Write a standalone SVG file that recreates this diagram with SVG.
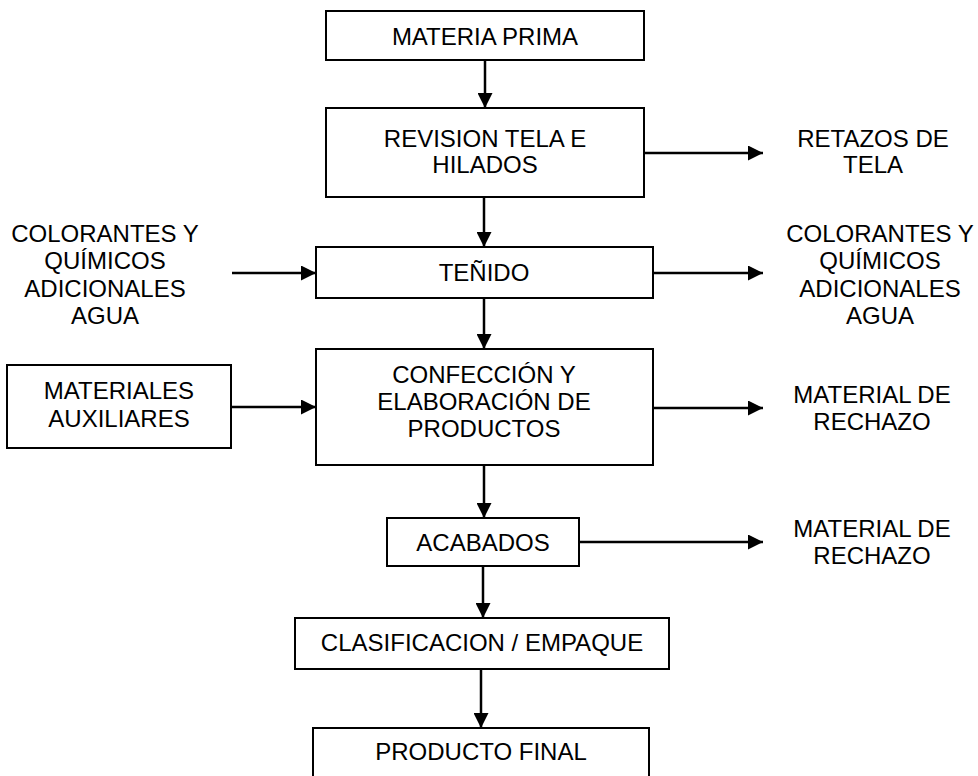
<svg xmlns="http://www.w3.org/2000/svg" width="978" height="776" viewBox="0 0 978 776">
<style>
  .box { fill: #ffffff; stroke: #000000; stroke-width: 2; }
  .t { font-family: "Liberation Sans", Arial, sans-serif; font-size: 24px; fill: #000000; text-anchor: middle; }
  .c { stroke: #000000; stroke-width: 2.5; fill: none; marker-end: url(#ah); }
</style>
<defs>
  <marker id="ah" viewBox="0 0 10 10" refX="10" refY="5" markerWidth="6" markerHeight="6" orient="auto" markerUnits="strokeWidth">
    <path d="M0,0 L10,5 L0,10 Z" fill="#000000"/>
  </marker>
</defs>
<rect width="978" height="776" fill="#ffffff"/>

<g id="connectors">
  <line class="c" x1="485" y1="60" x2="485" y2="108"/>
  <line class="c" x1="484" y1="197" x2="484" y2="247"/>
  <line class="c" x1="484" y1="298" x2="484" y2="349"/>
  <line class="c" x1="484" y1="465" x2="484" y2="518"/>
  <line class="c" x1="483" y1="566" x2="483" y2="618"/>
  <line class="c" x1="481" y1="669" x2="481" y2="728"/>
  <line class="c" x1="644" y1="153" x2="763" y2="153"/>
  <line class="c" x1="232" y1="273" x2="316" y2="273"/>
  <line class="c" x1="653" y1="273" x2="763" y2="273"/>
  <line class="c" x1="231" y1="407" x2="316" y2="407"/>
  <line class="c" x1="653" y1="408" x2="763" y2="408"/>
  <line class="c" x1="579" y1="542" x2="763" y2="542"/>
</g>

<g id="materia-prima">
  <rect class="box" x="326" y="11" width="318" height="49"/>
  <text class="t" x="485" y="45">MATERIA PRIMA</text>
</g>

<g id="revision">
  <rect class="box" x="326" y="108" width="318" height="89"/>
  <text class="t" x="485" y="147">REVISION TELA E</text>
  <text class="t" x="485" y="173">HILADOS</text>
</g>

<g id="retazos">
  <text class="t" x="873" y="147">RETAZOS DE</text>
  <text class="t" x="873" y="173">TELA</text>
</g>

<g id="colorantes-in">
  <text class="t" x="105" y="242">COLORANTES Y</text>
  <text class="t" x="105" y="269">QUÍMICOS</text>
  <text class="t" x="105" y="297">ADICIONALES</text>
  <text class="t" x="105" y="324">AGUA</text>
</g>

<g id="tenido">
  <rect class="box" x="316" y="247" width="337" height="51"/>
  <text class="t" x="484" y="281">TEÑIDO</text>
</g>

<g id="colorantes-out">
  <text class="t" x="880" y="242">COLORANTES Y</text>
  <text class="t" x="880" y="269">QUÍMICOS</text>
  <text class="t" x="880" y="297">ADICIONALES</text>
  <text class="t" x="880" y="324">AGUA</text>
</g>

<g id="materiales">
  <rect class="box" x="7" y="365" width="224" height="83"/>
  <text class="t" x="119" y="399">MATERIALES</text>
  <text class="t" x="119" y="427">AUXILIARES</text>
</g>

<g id="confeccion">
  <rect class="box" x="316" y="349" width="337" height="116"/>
  <text class="t" x="484" y="383">CONFECCIÓN Y</text>
  <text class="t" x="484" y="410">ELABORACIÓN DE</text>
  <text class="t" x="484" y="437">PRODUCTOS</text>
</g>

<g id="rechazo-1">
  <text class="t" x="872" y="403">MATERIAL DE</text>
  <text class="t" x="872" y="430">RECHAZO</text>
</g>

<g id="acabados">
  <rect class="box" x="387" y="518" width="192" height="48"/>
  <text class="t" x="483" y="551">ACABADOS</text>
</g>

<g id="rechazo-2">
  <text class="t" x="872" y="537">MATERIAL DE</text>
  <text class="t" x="872" y="564">RECHAZO</text>
</g>

<g id="clasificacion">
  <rect class="box" x="295" y="618" width="374" height="51"/>
  <text class="t" x="482" y="651">CLASIFICACION / EMPAQUE</text>
</g>

<g id="producto-final">
  <rect class="box" x="313" y="728" width="336" height="70"/>
  <text class="t" x="481" y="760">PRODUCTO FINAL</text>
</g>
</svg>
